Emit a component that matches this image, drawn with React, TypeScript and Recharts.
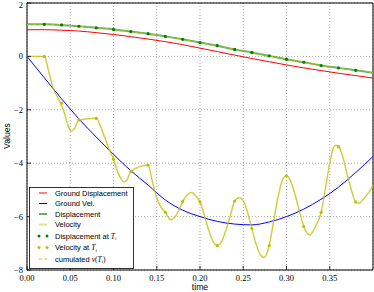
import React from 'react';
import { ComposedChart, Line, XAxis, YAxis, CartesianGrid, ReferenceArea } from 'recharts';

// sample times used by the smooth curves
const timeGrid = [
  0, 0.02, 0.04, 0.06, 0.08, 0.1, 0.12, 0.14, 0.16, 0.18, 0.2,
  0.22, 0.24, 0.26, 0.28, 0.3, 0.32, 0.34, 0.36, 0.38, 0.4,
];
const groundDisp = [
  1.0, 1.0, 0.98, 0.95, 0.89, 0.82, 0.74, 0.65, 0.55, 0.44, 0.31,
  0.18, 0.05, -0.08, -0.2, -0.32, -0.43, -0.53, -0.63, -0.72, -0.81,
];
const groundVel = [
  0, -0.8, -1.59, -2.34, -3.02, -3.67, -4.28, -4.82, -5.38, -5.76, -6.0,
  -6.18, -6.28, -6.31, -6.2, -6.0, -5.72, -5.35, -4.9, -4.35, -3.75,
];
const displacement = [
  1.2, 1.2, 1.18, 1.13, 1.07, 1.01, 0.93, 0.85, 0.75, 0.64, 0.52,
  0.4, 0.26, 0.15, 0.02, -0.11, -0.22, -0.34, -0.43, -0.52, -0.61,
];
const cumulatedV = [
  1.2, 1.2, 1.18, 1.13, 1.07, 1.01, 0.93, 0.85, 0.75, 0.64, 0.52,
  0.4, 0.26, 0.15, 0.02, -0.11, -0.22, -0.34, -0.43, -0.52, -0.61,
];

// velocity is wiggly, so it gets its own denser sampling
const velTimes = [
  0, 0.02, 0.025, 0.03, 0.035, 0.039, 0.043, 0.047, 0.0515, 0.055, 0.06,
  0.08, 0.085, 0.09, 0.095, 0.1, 0.104, 0.108, 0.1125, 0.116, 0.12,
  0.14, 0.145, 0.15, 0.155, 0.16, 0.166, 0.17, 0.175, 0.18, 0.185, 0.19,
  0.195, 0.2, 0.205, 0.21, 0.215, 0.22, 0.225, 0.23, 0.235, 0.24, 0.246,
  0.25, 0.255, 0.26, 0.265, 0.27, 0.274, 0.277, 0.28, 0.285, 0.29, 0.295,
  0.3, 0.305, 0.31, 0.315, 0.32, 0.327, 0.333, 0.34, 0.345, 0.35, 0.354,
  0.357, 0.36, 0.365, 0.37, 0.375, 0.38, 0.384, 0.39, 0.395, 0.4,
];
const velValues = [
  0, 0, -0.55, -1.17, -1.5, -1.75, -2.1, -2.55, -2.81, -2.7, -2.38,
  -2.32, -2.62, -3.05, -3.48, -3.85, -4.25, -4.55, -4.7, -4.6, -4.31,
  -4.07, -4.7, -5.3, -5.65, -5.84, -6.12, -6.05, -5.8, -5.43, -5.2, -5.1,
  -5.22, -5.45, -5.95, -6.5, -6.93, -7.09, -6.93, -6.51, -5.97, -5.42, -5.28,
  -5.4, -5.84, -6.45, -7.05, -7.44, -7.53, -7.4, -7.09, -6.2, -5.3, -4.66,
  -4.47, -4.69, -5.19, -5.81, -6.37, -6.69, -6.4, -5.84, -4.95, -4.0, -3.45,
  -3.33, -3.38, -3.75, -4.4, -5.0, -5.45, -5.5, -5.3, -5.1, -4.85,
];

// sampling instants T_i
const markerTimes = [
  0.02, 0.04, 0.06, 0.08, 0.1, 0.12, 0.14, 0.16, 0.18, 0.2,
  0.22, 0.24, 0.26, 0.28, 0.3, 0.32, 0.34, 0.36, 0.38,
];
const dispAtTi = [
  1.2, 1.18, 1.13, 1.07, 1.01, 0.93, 0.85, 0.75, 0.64, 0.52,
  0.4, 0.26, 0.15, 0.02, -0.11, -0.22, -0.34, -0.43, -0.52,
];
const velAtTi = [
  0, -1.75, -2.38, -2.32, -3.85, -4.31, -4.07, -5.84, -5.43, -5.45,
  -7.09, -5.42, -6.45, -7.09, -4.47, -6.37, -5.84, -3.38, -5.45,
];

const xTicks = [0, 0.05, 0.1, 0.15, 0.2, 0.25, 0.3, 0.35];
const yTicks = [-8, -6, -4, -2, 0, 2];

const zip = (ts: number[], vs: number[]) => ts.map((t, i) => ({ t, v: vs[i] }));

const RED = '#ff0000';
const BLUE = '#0000ff';
const GREEN = '#008000';
const YELLOW = '#bfbf00';
const serif = '"Liberation Serif", serif';
const sans = '"Liberation Sans", Arial, sans-serif';

const fmtY = (v: number) => (v < 0 ? '\u2212' + Math.abs(v) : String(v));

const BottomTick = (props: any) => {
  const { x, y, payload } = props;
  return (
    <g>
      <line x1={x} x2={x} y1={y} y2={y - 4} stroke="#000" strokeWidth={0.8} />
      <text x={x} y={y + 11} textAnchor="middle" fontFamily={serif} fontSize={8.5} fill="#000">
        {payload.value.toFixed(2)}
      </text>
    </g>
  );
};

const LeftTick = (props: any) => {
  const { x, y, payload } = props;
  // the top label sits right at the edge, keep it inside the picture
  const base = Math.max(y + 3, 8);
  return (
    <g>
      <line x1={x} x2={x + 4} y1={y} y2={y} stroke="#000" strokeWidth={0.8} />
      <text x={x - 4} y={base} textAnchor="end" fontFamily={serif} fontSize={8.5} fill="#000">
        {fmtY(payload.value)}
      </text>
    </g>
  );
};

const TopTick = (props: any) => {
  const { x, y } = props;
  return <line x1={x} x2={x} y1={y} y2={y + 4} stroke="#000" strokeWidth={0.8} />;
};

const RightTick = (props: any) => {
  const { x, y } = props;
  return <line x1={x} x2={x - 4} y1={y} y2={y} stroke="#000" strokeWidth={0.8} />;
};

const legendRows = [
  { kind: 'line', color: RED, width: 1, opacity: 1, label: 'Ground Displacement' },
  { kind: 'line', color: BLUE, width: 1, opacity: 1, label: 'Ground Vel.' },
  { kind: 'line', color: GREEN, width: 2, opacity: 0.6, label: 'Displacement' },
  { kind: 'line', color: YELLOW, width: 2, opacity: 0.45, label: 'Velocity' },
  { kind: 'dots', color: GREEN, width: 1, opacity: 1, label: 'Displacement at ' },
  { kind: 'dots', color: YELLOW, width: 1, opacity: 1, label: 'Velocity at ' },
  { kind: 'dash', color: YELLOW, width: 1, opacity: 1, label: 'cumulated ' },
];
const rowY = [6, 16.5, 27, 37.5, 49, 60.5, 72];

function LegendBox() {
  return (
    <svg
      width={105}
      height={82}
      style={{ position: 'absolute', left: 29, top: 187 }}
    >
      <rect x={0.5} y={0.5} width={104} height={81} fill="#fff" stroke="#000" strokeWidth={0.8} />
      {legendRows.map((r, i) => {
        const y = rowY[i];
        let swatch: React.ReactNode = null;
        if (r.kind === 'line') {
          swatch = (
            <line x1={10} x2={18} y1={y} y2={y} stroke={r.color} strokeWidth={r.width} strokeOpacity={r.opacity} />
          );
        } else if (r.kind === 'dots') {
          swatch = (
            <g fill={r.color}>
              <circle cx={10} cy={y} r={1.5} />
              <circle cx={18} cy={y} r={1.5} />
            </g>
          );
        } else {
          swatch = (
            <g stroke={r.color} strokeWidth={1}>
              <line x1={10} x2={12.5} y1={y} y2={y} />
              <line x1={15.5} x2={18} y1={y} y2={y} />
            </g>
          );
        }
        return (
          <g key={r.label}>
            {swatch}
            <text x={26} y={y + 2.7} fontFamily={sans} fontSize={7.5} fill="#000">
              {r.label}
              {i === 4 || i === 5 ? (
                <>
                  <tspan fontFamily={serif} fontStyle="italic">T</tspan>
                  <tspan fontFamily={serif} fontStyle="italic" fontSize={5} dy={1.5}>i</tspan>
                </>
              ) : null}
              {i === 6 ? (
                <>
                  <tspan fontFamily={serif} fontStyle="italic">v</tspan>
                  <tspan fontFamily={serif}>(</tspan>
                  <tspan fontFamily={serif} fontStyle="italic">T</tspan>
                  <tspan fontFamily={serif} fontStyle="italic" fontSize={5} dy={1.5}>i</tspan>
                  <tspan fontFamily={serif} dy={-1.5}>)</tspan>
                </>
              ) : null}
            </text>
          </g>
        );
      })}
    </svg>
  );
}

export default function App() {
  const redData = zip(timeGrid, groundDisp);
  const blueData = zip(timeGrid, groundVel);
  const greenData = zip(timeGrid, displacement);
  const cumData = zip(timeGrid, cumulatedV);
  const velData = zip(velTimes, velValues);
  const dispDots = zip(markerTimes, dispAtTi);
  const velDots = zip(markerTimes, velAtTi);

  return (
    <div style={{ position: 'absolute', left: 0, top: 0, width: 374, height: 292, background: '#fff' }}>
      <ComposedChart width={374} height={292} margin={{ top: 3, right: 1, bottom: 0, left: 0 }}>
        <CartesianGrid stroke="#000" strokeOpacity={0.55} strokeWidth={0.6} strokeDasharray="1 2" />
        <XAxis
          dataKey="t"
          type="number"
          domain={[0, 0.4]}
          ticks={xTicks}
          interval={0}
          height={22}
          tickSize={0}
          tickMargin={0}
          tickLine={false}
          axisLine={false}
          tick={<BottomTick />}
          allowDataOverflow
        />
        <XAxis
          xAxisId="top"
          orientation="top"
          dataKey="t"
          type="number"
          domain={[0, 0.4]}
          ticks={xTicks}
          interval={0}
          height={0}
          tickSize={0}
          tickMargin={0}
          tickLine={false}
          axisLine={false}
          tick={<TopTick />}
          allowDataOverflow
        />
        <YAxis
          type="number"
          domain={[-8, 2]}
          ticks={yTicks}
          interval={0}
          width={27}
          tickSize={0}
          tickMargin={0}
          tickLine={false}
          axisLine={false}
          tick={<LeftTick />}
          allowDataOverflow
        />
        <YAxis
          yAxisId="right"
          orientation="right"
          type="number"
          domain={[-8, 2]}
          ticks={yTicks}
          interval={0}
          width={0}
          tickSize={0}
          tickMargin={0}
          tickLine={false}
          axisLine={false}
          tick={<RightTick />}
          allowDataOverflow
        />
        <Line data={redData} dataKey="v" type="monotone" stroke={RED} strokeWidth={1} dot={false} activeDot={false} isAnimationActive={false} />
        <Line data={blueData} dataKey="v" type="monotone" stroke={BLUE} strokeWidth={1} dot={false} activeDot={false} isAnimationActive={false} />
        <Line data={greenData} dataKey="v" type="monotone" stroke={GREEN} strokeOpacity={0.6} strokeWidth={2} dot={false} activeDot={false} isAnimationActive={false} />
        <Line data={velData} dataKey="v" type="monotone" stroke={YELLOW} strokeOpacity={0.75} strokeWidth={1.5} dot={false} activeDot={false} isAnimationActive={false} />
        <Line data={dispDots} dataKey="v" stroke="none" dot={{ r: 1.6, fill: GREEN, stroke: 'none' }} activeDot={false} isAnimationActive={false} />
        <Line data={velDots} dataKey="v" stroke="none" dot={{ r: 1.6, fill: YELLOW, stroke: 'none' }} activeDot={false} isAnimationActive={false} />
        <Line data={cumData} dataKey="v" type="monotone" stroke={YELLOW} strokeWidth={1} strokeDasharray="3 3" dot={false} activeDot={false} isAnimationActive={false} />
        <ReferenceArea x1={0} x2={0.4} y1={-8} y2={2} fill="none" stroke="#000" strokeWidth={1} ifOverflow="visible" />
      </ComposedChart>
      <LegendBox />
      <div
        style={{
          position: 'absolute',
          left: 7,
          top: 136,
          transform: 'translate(-50%, -50%) rotate(-90deg)',
          fontFamily: sans,
          fontSize: 8.7,
          whiteSpace: 'nowrap',
          lineHeight: 1,
        }}
      >
        Values
      </div>
      <div
        style={{
          position: 'absolute',
          left: 200,
          top: 287,
          transform: 'translate(-50%, -50%)',
          fontFamily: sans,
          fontSize: 8.7,
          whiteSpace: 'nowrap',
          lineHeight: 1,
        }}
      >
        time
      </div>
    </div>
  );
}
